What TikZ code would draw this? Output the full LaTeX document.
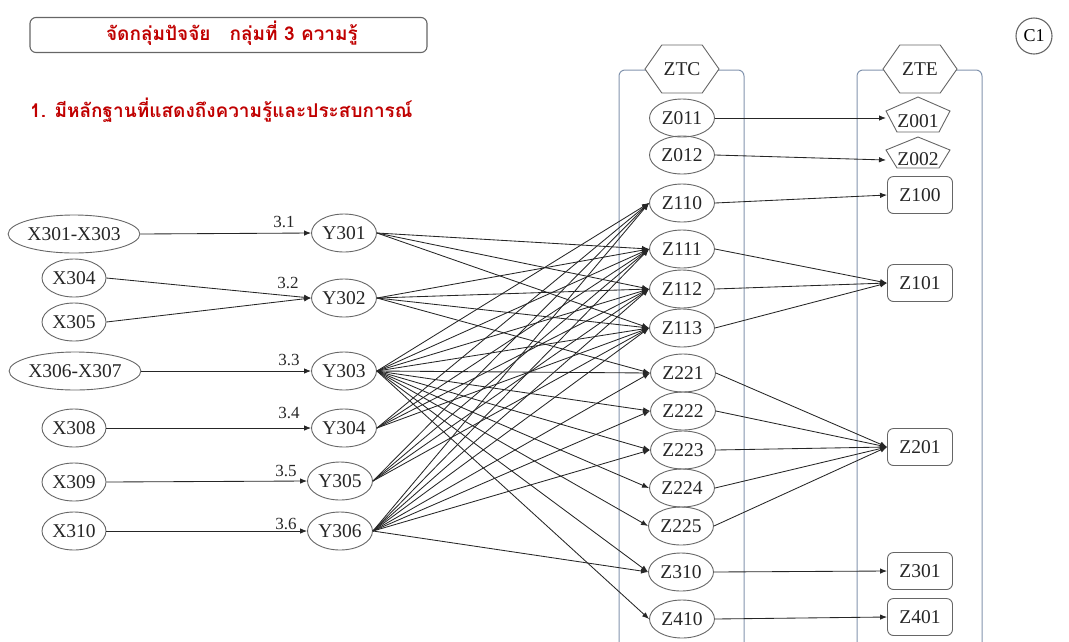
\documentclass[tikz,border=0pt]{standalone}
\usepackage{fontspec}
\setmainfont{Liberation Serif}
\newfontfamily\thaifont[Script=Thai]{Loma}
\usetikzlibrary{shapes.geometric,shapes.symbols,arrows.meta}
\definecolor{titlered}{HTML}{C00000}
\definecolor{framecol}{HTML}{8294AE}
\definecolor{shapecol}{HTML}{666666}
\begin{document}
\begin{tikzpicture}[x=1pt,y=-1pt,
  ell/.style={draw=shapecol, line width=0.9pt, ellipse, minimum width=65pt, minimum height=38pt, inner sep=0pt, font=\fontsize{19.5}{19.5}\selectfont, text=black!85},
  wide/.style={ell, minimum width=125pt},
  xs/.style={ell, minimum width=64pt},
  rbox/.style={draw=shapecol, line width=0.9pt, rounded corners=6pt, minimum width=65pt, minimum height=37pt, inner sep=0pt, font=\fontsize{19.5}{19.5}\selectfont, text=black!85},
  hexa/.style={draw=shapecol, fill=white, line width=0.9pt, shape=signal, signal to=east and west, signal pointer angle=110, minimum width=74pt, minimum height=48pt, inner sep=0pt, font=\fontsize{19.5}{19.5}\selectfont, text=black!85},
  pent/.style={draw=shapecol, line width=0.9pt},
  frame/.style={draw=framecol, line width=1pt, rounded corners=6pt},
  conn/.style={-{Latex[length=7pt,width=5.5pt]}, draw=black!85, line width=0.85pt},
  lbl/.style={font=\fontsize{17}{17}\selectfont, text=black!85, inner sep=0pt},
  ptext/.style={font=\fontsize{19.5}{19.5}\selectfont, text=black!85, inner sep=0pt}
]
\useasboundingbox (0,0) rectangle (1069,641);

% title and subtitle
\node[draw=shapecol, line width=1.1pt, rounded corners=6pt, minimum width=397pt, minimum height=35pt] (title) at (228.5,35) {};
\node[text=titlered, font=\thaifont\bfseries\fontsize{19}{19}\selectfont] (titletext) at (232,33) {จัดกลุ่มปัจจัย\quad กลุ่มที่ 3 ความรู้};
\node[anchor=west, text=titlered, font=\thaifont\bfseries\fontsize{19}{19}\selectfont, inner sep=0pt] (sub) at (30,110) {1. มีหลักฐานที่แสดงถึงความรู้และประสบการณ์};

% C1
\node[draw=shapecol, line width=1.1pt, circle, minimum size=36pt, inner sep=0pt, font=\fontsize{18}{18}\selectfont] (c1) at (1034,36) {C1};

% containers
\draw[frame] (619,645) -- (619,70) -- (744,70) -- (744,645);
\draw[frame] (857,645) -- (857,70) -- (982,70) -- (982,645);
\node[hexa] (ztc) at (682,69) {ZTC};
\node[hexa] (zte) at (920,69) {ZTE};

% X nodes
\node[wide] (x1) at (74,234) {X301-X303};
\node[xs] (x4) at (74,278) {X304};
\node[xs] (x5) at (74,322) {X305};
\node[wide] (x6) at (75,371) {X306-X307};
\node[xs] (x8) at (74,428) {X308};
\node[xs] (x9) at (74,482) {X309};
\node[xs] (x10) at (74,531) {X310};

% Y nodes
\node[ell] (y1) at (344,233) {Y301};
\node[ell] (y2) at (344,298) {Y302};
\node[ell] (y3) at (344,371) {Y303};
\node[ell] (y4) at (344,428) {Y304};
\node[ell] (y5) at (340,481) {Y305};
\node[ell] (y6) at (340,531) {Y306};

% ZTC nodes
\node[ell] (z011) at (682,118) {Z011};
\node[ell] (z012) at (682,155) {Z012};
\node[ell] (z110) at (682,203) {Z110};
\node[ell] (z111) at (682,249) {Z111};
\node[ell] (z112) at (682,289) {Z112};
\node[ell] (z113) at (682,328) {Z113};
\node[ell] (z221) at (683,373) {Z221};
\node[ell] (z222) at (683,411) {Z222};
\node[ell] (z223) at (683,450) {Z223};
\node[ell] (z224) at (682,488) {Z224};
\node[ell] (z225) at (681,526) {Z225};
\node[ell] (z310) at (681,572) {Z310};
\node[ell] (z410) at (682,619) {Z410};

% ZTE nodes
\node[ptext] (z001) at (918,121) {Z001};
\draw[pent] (918,97) -- (950,111) -- (939,132) -- (897,132) -- (886,111) -- cycle;
\coordinate (z001in) at (886,118);
\node[ptext] (z002) at (918,159) {Z002};
\draw[pent] (918,137) -- (950,150) -- (939,168) -- (897,168) -- (886,150) -- cycle;
\coordinate (z002in) at (886,160);
\node[rbox] (z100) at (920,195) {Z100};
\node[rbox] (z101) at (920,283) {Z101};
\node[rbox] (z201) at (920,447) {Z201};
\node[rbox] (z301) at (920,571) {Z301};
\node[rbox] (z401) at (920,617) {Z401};

% X -> Y
\draw[conn] (x1.east) -- (y1.west);
\draw[conn] (x4.east) -- (y2.west);
\draw[conn] (x5.east) -- (y2.west);
\draw[conn] (x6.east) -- (y3.west);
\draw[conn] (x8.east) -- (y4.west);
\draw[conn] (x9.east) -- (y5.west);
\draw[conn] (x10.east) -- (y6.west);

\node[lbl] (l1) at (284,222) {3.1};
\node[lbl] (l2) at (288,283) {3.2};
\node[lbl] (l3) at (289,360) {3.3};
\node[lbl] (l4) at (289,413) {3.4};
\node[lbl] (l5) at (286,471) {3.5};
\node[lbl] (l6) at (286,524) {3.6};

% Y -> Z
\foreach \t in {z111,z112,z113} \draw[conn] (y1.east) -- (\t.west);
\foreach \t in {z111,z112,z113,z221} \draw[conn] (y2.east) -- (\t.west);
\foreach \t in {z110,z111,z112,z113,z221,z222,z223,z224,z225,z310,z410} \draw[conn] (y3.east) -- (\t.west);
\foreach \t in {z110,z111,z112,z113} \draw[conn] (y4.east) -- (\t.west);
\foreach \t in {z110,z111,z112,z113} \draw[conn] (y5.east) -- (\t.west);
\foreach \t in {z110,z111,z112,z113,z221,z222,z223,z310} \draw[conn] (y6.east) -- (\t.west);

% Z -> ZTE
\draw[conn] (z011.east) -- (z001in);
\draw[conn] (z012.east) -- (z002in);
\draw[conn] (z110.east) -- (z100.west);
\foreach \s in {z111,z112,z113} \draw[conn] (\s.east) -- (z101.west);
\foreach \s in {z221,z222,z223,z224,z225} \draw[conn] (\s.east) -- (z201.west);
\draw[conn] (z310.east) -- (z301.west);
\draw[conn] (z410.east) -- (z401.west);
\end{tikzpicture}
\end{document}
